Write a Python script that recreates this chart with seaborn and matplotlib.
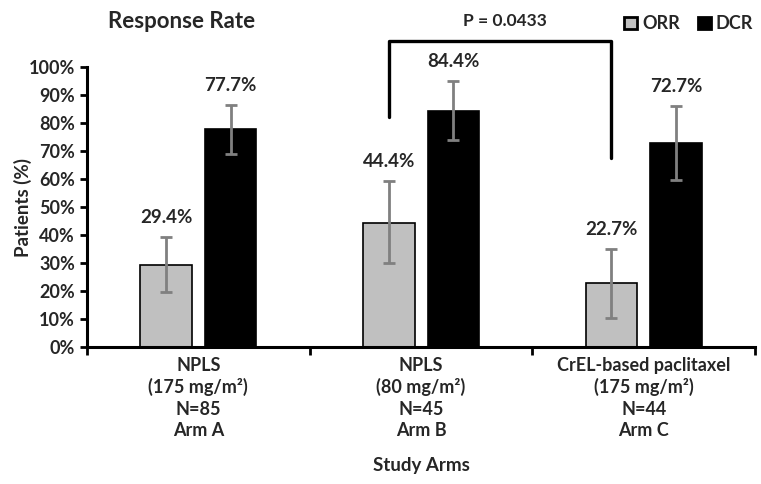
import seaborn as sns
import pandas as pd
import matplotlib.pyplot as plt
from matplotlib.patches import Patch

# values
arms = ['NPLS\n(175 mg/m²)\nN=85\nArm A',
        'NPLS\n(80 mg/m²)\nN=45\nArm B',
        'CrEL-based paclitaxel\n(175 mg/m²)\nN=44\nArm C']
orr = [29.4, 44.4, 22.7]
dcr = [77.7, 84.4, 72.7]
orr_lo = [19.5, 30.0, 10.5]
orr_hi = [39.2, 59.2, 35.0]
dcr_lo = [69.0, 74.0, 59.6]
dcr_hi = [86.5, 95.0, 86.0]
p_text = 'P = 0.0433'

df = pd.DataFrame({
    'arm': arms * 2,
    'rate': orr + dcr,
    'measure': ['ORR'] * 3 + ['DCR'] * 3,
    'lo': orr_lo + dcr_lo,
    'hi': orr_hi + dcr_hi,
})

sns.set_style('white')
plt.rcParams['font.family'] = ['Lato', 'DejaVu Sans']
plt.rcParams['font.weight'] = 'bold'

fig = plt.figure(figsize=(7.61, 4.84), dpi=100)
ax = fig.add_axes([0.1143, 0.283, 0.878, 0.5786])

sns.barplot(data=df, x='arm', y='rate', hue='measure', ax=ax,
            palette={'ORR': '#c0c0c0', 'DCR': '#000000'},
            edgecolor='black', linewidth=1.2, width=0.58, gap=0.2,
            errorbar=None, legend=False)

# error bars and value labels on top of each bar
for cont, measure in zip(ax.containers, ['ORR', 'DCR']):
    sub = df[df['measure'] == measure].reset_index(drop=True)
    for bar, (_, row) in zip(cont.patches, sub.iterrows()):
        xc = bar.get_x() + bar.get_width() / 2
        ax.errorbar(xc, row['rate'],
                    yerr=[[row['rate'] - row['lo']], [row['hi'] - row['rate']]],
                    fmt='none', ecolor='#808080', elinewidth=2, capsize=4,
                    capthick=2, zorder=3)
        ax.text(xc, row['hi'] + 4, f"{row['rate']:.1f}%", ha='center',
                va='bottom', fontsize=13.5, fontweight='bold')

# significance bracket between ORR of arm B and arm C
orr_bars = ax.containers[0].patches
xb = orr_bars[1].get_x() + orr_bars[1].get_width() / 2
xc_ = orr_bars[2].get_x() + orr_bars[2].get_width() / 2
ax.plot([xb, xb, xc_, xc_], [82, 109.3, 109.3, 67.5], color='black',
        lw=2.4, clip_on=False)
ax.text((xb + xc_) / 2 + 0.02, 113.5, p_text, ha='center', va='bottom',
        fontsize=12.5, fontweight='bold')

ax.set_ylim(0, 100)
ax.set_xlim(-0.5, 2.5)
ax.set_yticks(range(0, 101, 10))
ax.set_yticklabels([f'{v}%' for v in range(0, 101, 10)])
ax.set_xticks([-0.5, 0.5, 1.5, 2.5], minor=True)
ax.tick_params(axis='x', which='major', length=0, pad=7, labelsize=13)
ax.tick_params(axis='x', which='minor', length=6, width=2, direction='out',
               bottom=True, color='black')
ax.tick_params(axis='y', length=5, width=2, direction='out', left=True,
               labelsize=13, color='black')
for lab in ax.get_xticklabels():
    lab.set_linespacing(1.3)
    lab.set_fontweight('bold')
for lab in ax.get_yticklabels():
    lab.set_fontweight('bold')

sns.despine(ax=ax)
for s in ['left', 'bottom']:
    ax.spines[s].set_linewidth(2.2)
    ax.spines[s].set_color('black')

ax.set_xlabel('Study Arms', fontsize=13.5, fontweight='bold', labelpad=13)
ax.set_ylabel('Patients (%)', fontsize=13.5, fontweight='bold')
ax.yaxis.set_label_coords(-0.082, 0.5)

fig.text(0.239, 0.955, 'Response Rate', ha='center', va='center',
         fontsize=16, fontweight='bold')

handles = [Patch(facecolor='#c0c0c0', edgecolor='black', lw=2, label='ORR'),
           Patch(facecolor='black', edgecolor='black', lw=2, label='DCR')]
fig.legend(handles=handles, loc='center', bbox_to_anchor=(0.905, 0.951),
           ncol=2, frameon=False, fontsize=13, handlelength=0.7,
           handleheight=0.7, handletextpad=0.3, columnspacing=1.0)

fig.savefig('out.png', dpi=100)
